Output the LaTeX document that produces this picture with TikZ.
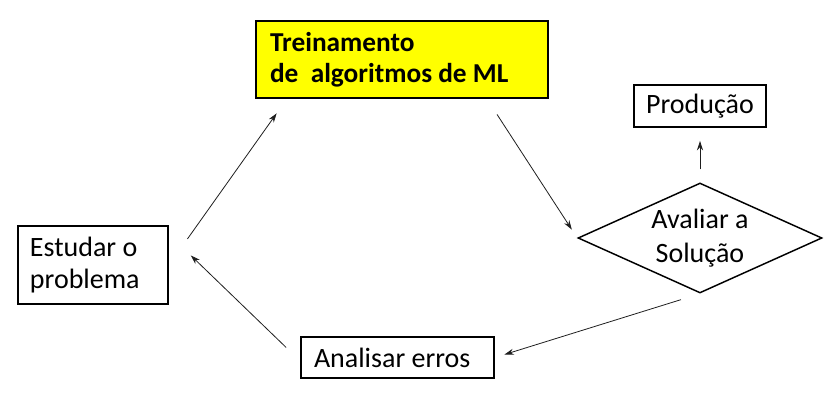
\documentclass[tikz,border=0pt]{standalone}
\usepackage{fontspec}
\setmainfont{Carlito}
\usetikzlibrary{shapes.geometric,arrows.meta}

\begin{document}
\begin{tikzpicture}[x=0.75pt,y=0.75pt,yscale=-1,xscale=1,
	tight/.style={execute at begin node={\spaceskip=0.226em\relax}},
	box/.style={draw, rectangle, line width=1.4pt, align=left, inner ysep=0pt, font=\fontsize{21}{24}\selectfont, tight},
	arr/.style={-{Stealth[length=7pt,width=4.5pt]}, line width=0.6pt, color={rgb, 255:red, 30; green, 30; blue, 30 }}]
			\useasboundingbox (0,0) rectangle (836,409);

			%Shape: Rectangle [id:estudar]
			\node [box, minimum width=112.5pt, minimum height=58.5pt, inner xsep=9pt, text width=94.5pt] (estudar) at (93,265) {Estudar o\\problema};
			%Shape: Rectangle [id:treino]
			\node [box, line width=1.8pt, fill={rgb, 255:red, 255; green, 255; blue, 0 }, minimum width=219pt, minimum height=57.75pt, inner xsep=10.5pt, text width=198pt, font=\fontsize{20.5}{23}\selectfont\bfseries] (treino) at (402,59.5) {Treinamento\\de\ \ algoritmos de ML};
			%Shape: Rectangle [id:prod]
			\node [box, align=center, minimum width=99pt, minimum height=31.5pt] (prod) at (700,106) {Produção};
			%Shape: Diamond [id:aval]
			\node [draw, diamond, aspect=2.2, line width=1.1pt, inner sep=0pt, minimum width=183pt, minimum height=82.5pt, align=center, font=\fontsize{21}{25}\selectfont, tight] (aval) at (700,238) {Avaliar a\\Solução};
			%Shape: Rectangle [id:analisar]
			\node [box, minimum width=144.75pt, minimum height=30.75pt, inner xsep=9.75pt, text width=125.25pt] (analisar) at (397.5,357.5) {Analisar erros};

			%Straight Lines
			\draw [arr, shorten <=24pt, shorten >=13pt] (estudar.east) -- (treino.199);
			%Straight Lines
			\draw [arr, shorten <=13.6pt, shorten >=7.5pt] (treino.-25.7) -- (aval.west);
			%Straight Lines
			\draw [arr, shorten <=9.75pt, shorten >=9.75pt] (aval.north) -- (prod.south);
			%Straight Lines
			\draw [arr, shorten <=15pt, shorten >=7.5pt] (aval.south) -- (analisar.east);
			%Straight Lines
			\draw [arr, shorten <=14.5pt, shorten >=22.8pt] (analisar.182.3) -- (estudar.22.5);
\end{tikzpicture}
\end{document}
